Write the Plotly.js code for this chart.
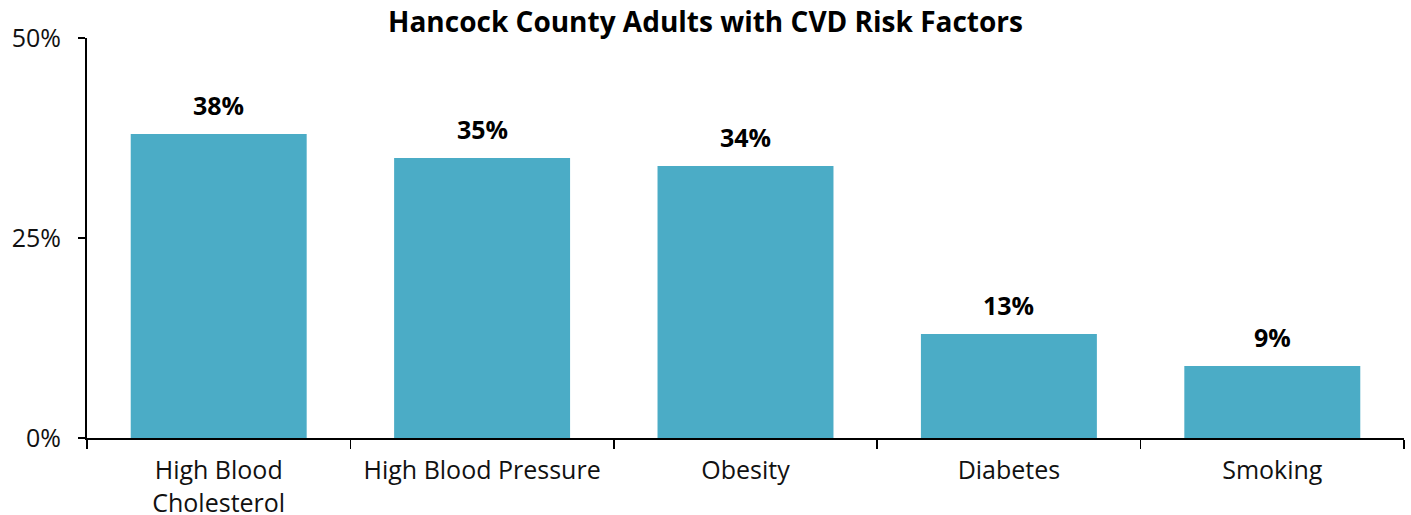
<!DOCTYPE html>
<html>
<head>
<meta charset="utf-8">
<script src="https://cdn.plot.ly/plotly-3.0.1.min.js"></script>
<style>
  html, body { margin: 0; padding: 0; background: #fff; }
  #chart { width: 1411px; height: 515px; }
</style>
</head>
<body>
<div id="chart"></div>
<script>
// Share of adults with each cardiovascular risk factor
const categories = ['High Blood<br>Cholesterol', 'High Blood Pressure', 'Obesity', 'Diabetes', 'Smoking'];
const shares = [0.38, 0.35, 0.34, 0.13, 0.09];
const yTickValues = [0, 0.25, 0.5];
const yTickLabels = ['0%', '25%', '50%'];

const FONT = '"Open Sans", "Noto Sans", sans-serif';
const BAR_COLOR = '#4BACC6';

const valueLabels = categories.map((c, i) => ({
  x: c,
  y: shares[i],
  xref: 'x',
  yref: 'y',
  text: '<b>' + Math.round(shares[i] * 100) + '%</b>',
  showarrow: false,
  yanchor: 'bottom',
  yshift: 10,
  font: { family: FONT, size: 25, color: '#000' }
}));

const trace = {
  type: 'bar',
  x: categories,
  y: shares,
  marker: { color: BAR_COLOR, line: { width: 0 } },
  width: 0.668,
  hoverinfo: 'none'
};

const layout = {
  width: 1411,
  height: 515,
  margin: { l: 87, r: 7, t: 38, b: 77 },
  paper_bgcolor: '#fff',
  plot_bgcolor: '#fff',
  showlegend: false,
  title: {
    text: '<b>Hancock County Adults with CVD Risk Factors</b>',
    font: { family: FONT, size: 28, color: '#000' },
    x: 0.5,
    xanchor: 'center',
    y: 1 - 22 / 515,
    yanchor: 'middle'
  },
  font: { family: FONT, size: 25, color: '#000' },
  xaxis: {
    type: 'category',
    showline: true,
    linecolor: '#000',
    linewidth: 2,
    ticks: 'outside',
    tickson: 'boundaries',
    ticklen: 9,
    tickwidth: 1.5,
    tickcolor: '#000',
    ticklabelstandoff: 9,
    showgrid: false,
    zeroline: false,
    tickfont: { family: FONT, size: 25, color: '#111' },
    automargin: false
  },
  yaxis: {
    range: [0, 0.5],
    tickvals: yTickValues,
    ticktext: yTickLabels,
    showline: true,
    linecolor: '#000',
    linewidth: 2,
    ticks: 'outside',
    ticklen: 7,
    tickwidth: 1.5,
    tickcolor: '#000',
    ticklabelstandoff: 12,
    showgrid: false,
    zeroline: false,
    tickfont: { family: FONT, size: 25, color: '#111' },
    automargin: false
  },
  annotations: valueLabels
};

Plotly.newPlot('chart', [trace], layout, { staticPlot: true, displayModeBar: false });
</script>
</body>
</html>
